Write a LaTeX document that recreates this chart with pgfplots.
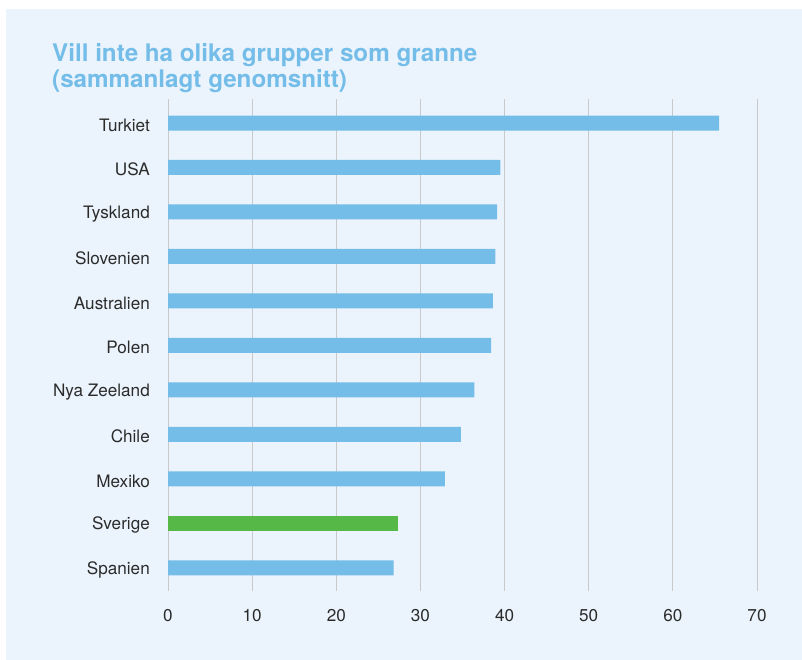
\documentclass[border=0pt]{standalone}
\usepackage{pgfplots}
\pgfplotsset{compat=1.18}
\usepackage{fontspec}
\setmainfont{TeX Gyre Heros}
\definecolor{panel}{HTML}{EBF4FC}
\definecolor{barblue}{HTML}{74BDE9}
\definecolor{bargreen}{HTML}{56B947}
\definecolor{titleblue}{HTML}{74BDE9}
\definecolor{txt}{HTML}{2B2B2B}
\definecolor{gridc}{HTML}{C9C9C9}

\begin{document}
\begin{tikzpicture}[x=1bp,y=1bp]
\fill[white] (0,0) rectangle (802,660);
\fill[panel] (6,0) rectangle (802,651);
\node[anchor=base west, inner sep=0pt, text=titleblue,
  font=\fontsize{24.3}{26}\selectfont\bfseries] at (52,598) {Vill inte ha olika grupper som granne};
\node[anchor=base west, inner sep=0pt, text=titleblue,
  font=\fontsize{24.3}{26}\selectfont\bfseries] at (52,572) {(sammanlagt genomsnitt)};
\begin{axis}[
  at={(168bp,69bp)}, anchor=south west,
  width=589bp, height=492bp, scale only axis,
  xmin=0, xmax=70, ymin=-0.52, ymax=10.54,
  axis line style={draw=none},
  major tick length=0pt,
  xtick={0,10,...,70},
  ytick={0,...,10},
  yticklabels={Spanien,Sverige,Mexiko,Chile,Nya Zeeland,Polen,Australien,Slovenien,Tyskland,USA,Turkiet},
  xmajorgrids, grid style={gridc, line width=0.9bp},
  tick label style={font=\fontsize{17.2}{20}\selectfont, text=txt},
  yticklabel style={anchor=east, inner sep=0pt, xshift=-18bp, yshift=-2bp},
  xticklabel style={anchor=base, inner sep=0pt, yshift=-31bp},
  /pgf/number format/assume math mode=true,
  xbar, bar width=15bp, bar shift=0pt,
]
\addplot[fill=barblue, draw=none] coordinates {
  (26.8,0) (32.9,2) (34.8,3) (36.4,4) (38.4,5) (38.6,6) (38.9,7) (39.1,8) (39.5,9) (65.5,10)};
\addplot[fill=bargreen, draw=none] coordinates {(27.3,1)};
\end{axis}
\end{tikzpicture}
\end{document}
